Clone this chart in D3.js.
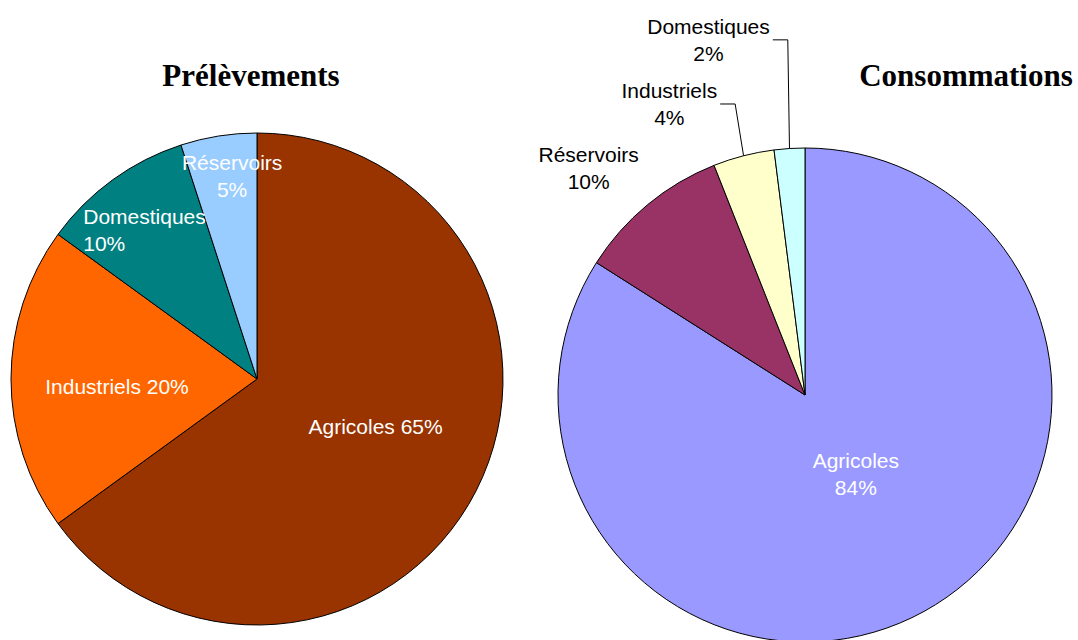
<!DOCTYPE html>
<html>
<head>
<meta charset="utf-8">
<script src="https://cdn.jsdelivr.net/npm/d3@7"></script>
<style>
  html, body { margin: 0; padding: 0; background: #fff; }
  svg { display: block; }
</style>
</head>
<body>
<div id="chart"></div>
<script>
"use strict";

// Data
const titles = ["Prélèvements", "Consommations"];
const prelevementsCats = ["Agricoles", "Industriels", "Domestiques", "Réservoirs"];
const prelevementsVals = [65, 20, 10, 5];
const consommationsCats = ["Agricoles", "Réservoirs", "Industriels", "Domestiques"];
const consommationsVals = [84, 10, 4, 2];

const prelevementsColors = ["#993300", "#FF6600", "#008080", "#99CCFF"];
const consommationsColors = ["#9999FF", "#993366", "#FFFFCC", "#CCFFFF"];

const W = 1078, H = 640;
const FONT = "'Liberation Sans', Arial, sans-serif";
const SERIF = "'Liberation Serif', 'Times New Roman', serif";
const FS = 21, LINE_H = 27;

const svg = d3.select("#chart").append("svg")
  .attr("width", W).attr("height", H);

// label layout: [angle offset from slice middle (deg), radius factor, lines mode, anchor, leader]
const pies = [
  {
    title: titles[0], titleX: 251, cats: prelevementsCats, vals: prelevementsVals,
    colors: prelevementsColors, cx: 257, cy: 379, r: 246,
    labels: [
      [-5, 0.52, "inline", "middle", false],
      [-3, 0.57, "inline", "middle", false],
      [-1, 0.76, "stack", "start", false],
      [2, 0.83, "stack", "middle", false]
    ]
  },
  {
    title: titles[1], titleX: 966, cats: consommationsCats, vals: consommationsVals,
    colors: consommationsColors, cx: 805, cy: 395, r: 247,
    labels: [
      [-4, 0.38, "stack", "middle", false],
      [-4, 1.27, "stack", "middle", false],
      [-10.6, 1.30, "stack", "middle", true],
      [-11.6, 1.49, "stack", "middle", true]
    ]
  }
];

pies.forEach((p) => {
  const total = d3.sum(p.vals);
  const pie = d3.pie().sort(null).value((d) => d)(p.vals);
  const arc = d3.arc().innerRadius(0).outerRadius(p.r);
  const g = svg.append("g").attr("transform", `translate(${p.cx},${p.cy})`);

  g.selectAll("path")
    .data(pie)
    .join("path")
    .attr("d", arc)
    .attr("fill", (d, i) => p.colors[i])
    .attr("stroke", "#000")
    .attr("stroke-width", 1);

  // Title
  svg.append("text")
    .attr("x", p.titleX).attr("y", 86)
    .attr("text-anchor", "middle")
    .attr("font-family", SERIF)
    .attr("font-weight", "bold")
    .attr("font-size", 31)
    .attr("fill", "#000")
    .text(p.title);

  // Labels
  pie.forEach((d, i) => {
    const [dAng, rf, mode, anchor, leader] = p.labels[i];
    const mid = (d.startAngle + d.endAngle) / 2;
    const a = mid + dAng * Math.PI / 180;
    const lx = Math.sin(a) * p.r * rf;
    const ly = -Math.cos(a) * p.r * rf;
    const pct = Math.round(p.vals[i] / total * 100) + "%";
    const lines = mode === "inline" ? [p.cats[i] + " " + pct] : [p.cats[i], pct];

    const t = g.append("text")
      .attr("font-family", FONT)
      .attr("font-size", FS)
      .attr("fill", rf > 1 ? "#000" : "#fff")
      .attr("text-anchor", anchor);

    const y0 = ly - (lines.length - 1) * LINE_H / 2 + FS * 0.35;
    lines.forEach((s, k) => {
      t.append("tspan").attr("x", lx).attr("y", y0 + k * LINE_H).text(s);
    });

    if (anchor === "start") {
      // shift so the block is centred on the anchor point
      const bw = t.node().getBBox().width;
      t.selectAll("tspan").attr("x", lx - bw / 2);
    }

    if (leader) {
      const bb = t.node().getBBox();
      const right = bb.x + bb.width;
      const ax = Math.sin(mid) * p.r;
      const ay = -Math.cos(mid) * p.r;
      g.append("polyline")
        .attr("points", [[right + 3, ly], [right + 18, ly], [ax, ay]].map((q) => q.join(",")).join(" "))
        .attr("fill", "none")
        .attr("stroke", "#000")
        .attr("stroke-width", 1);
    }
  });
});
</script>
</body>
</html>
